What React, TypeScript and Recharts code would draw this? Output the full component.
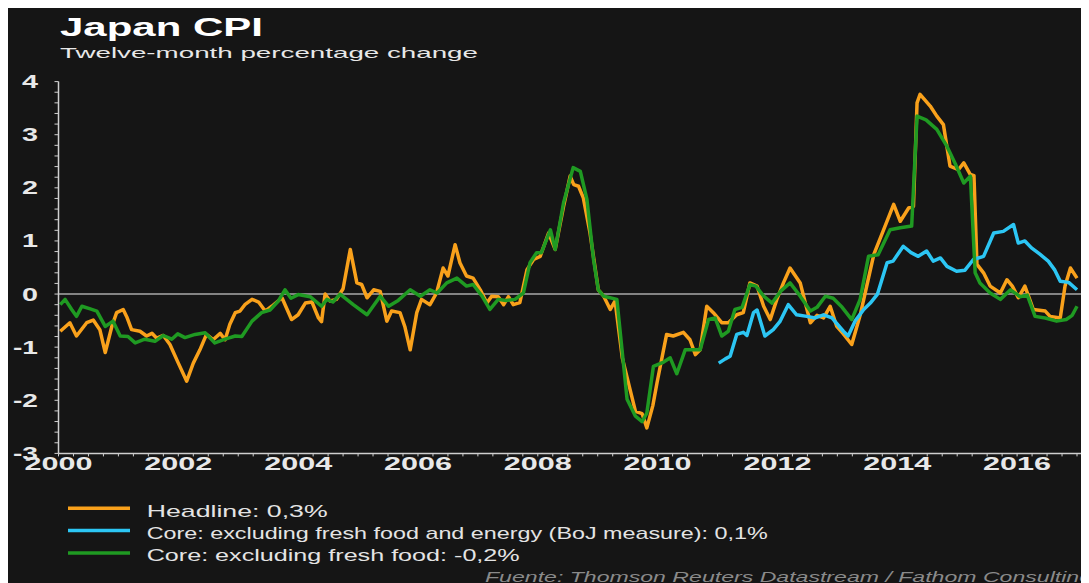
import React from 'react';
import { LineChart, Line, XAxis, YAxis, ReferenceLine } from 'recharts';

// [year as decimal, % change]
const headline: [number, number][] = [
  [2000.03, -0.7], [2000.19, -0.54], [2000.3, -0.79], [2000.47, -0.54], [2000.58, -0.49],
  [2000.69, -0.67], [2000.78, -1.1], [2000.89, -0.61], [2000.97, -0.35], [2001.08, -0.29],
  [2001.14, -0.43], [2001.22, -0.67], [2001.36, -0.7], [2001.47, -0.79], [2001.56, -0.74],
  [2001.64, -0.83], [2001.75, -0.78], [2001.86, -0.95], [2002.0, -1.3], [2002.14, -1.64],
  [2002.25, -1.3], [2002.36, -1.05], [2002.47, -0.76], [2002.58, -0.86], [2002.7, -0.74],
  [2002.78, -0.86], [2002.86, -0.57], [2002.95, -0.35], [2003.03, -0.32], [2003.11, -0.2],
  [2003.23, -0.1], [2003.34, -0.15], [2003.45, -0.32], [2003.56, -0.23], [2003.73, -0.07],
  [2003.89, -0.48], [2004.0, -0.39], [2004.12, -0.17], [2004.23, -0.15], [2004.34, -0.45],
  [2004.39, -0.52], [2004.45, 0.0], [2004.53, -0.13], [2004.64, -0.1], [2004.75, 0.1],
  [2004.87, 0.84], [2004.98, 0.21], [2005.06, 0.18], [2005.15, -0.07], [2005.26, 0.08],
  [2005.37, 0.05], [2005.48, -0.51], [2005.56, -0.32], [2005.7, -0.35], [2005.78, -0.61],
  [2005.87, -1.05], [2005.98, -0.35], [2006.06, -0.1], [2006.2, -0.2], [2006.31, 0.02],
  [2006.42, 0.49], [2006.5, 0.34], [2006.62, 0.93], [2006.7, 0.59], [2006.81, 0.34],
  [2006.92, 0.3], [2007.04, 0.08], [2007.15, -0.17], [2007.23, -0.04], [2007.34, -0.05],
  [2007.43, -0.2], [2007.51, -0.05], [2007.59, -0.2], [2007.7, -0.16], [2007.82, 0.46],
  [2007.93, 0.65], [2008.04, 0.71], [2008.18, 1.15], [2008.29, 0.84], [2008.43, 1.65],
  [2008.54, 2.22], [2008.6, 2.06], [2008.68, 2.03], [2008.76, 1.81], [2008.87, 1.16],
  [2009.01, 0.08], [2009.1, -0.04], [2009.21, -0.29], [2009.29, -0.13], [2009.41, -1.2],
  [2009.63, -2.21], [2009.74, -2.25], [2009.82, -2.52], [2009.92, -2.1], [2009.99, -1.67],
  [2010.15, -0.76], [2010.26, -0.79], [2010.43, -0.72], [2010.54, -0.86], [2010.63, -1.14],
  [2010.71, -1.05], [2010.82, -0.23], [2010.93, -0.35], [2011.07, -0.54], [2011.18, -0.54],
  [2011.32, -0.39], [2011.43, -0.35], [2011.54, 0.21], [2011.66, 0.15], [2011.77, -0.23],
  [2011.88, -0.48], [2011.99, -0.1], [2012.1, 0.21], [2012.21, 0.49], [2012.38, 0.21],
  [2012.55, -0.54], [2012.66, -0.4], [2012.77, -0.45], [2012.88, -0.23], [2012.99, -0.61],
  [2013.1, -0.75], [2013.24, -0.95], [2013.38, -0.4], [2013.48, 0.1], [2013.61, 0.75],
  [2013.74, 1.12], [2013.94, 1.69], [2014.05, 1.37], [2014.19, 1.62], [2014.27, 1.65],
  [2014.33, 3.6], [2014.38, 3.76], [2014.55, 3.54], [2014.66, 3.35], [2014.77, 3.19],
  [2014.88, 2.41], [2015.02, 2.34], [2015.11, 2.47], [2015.22, 2.25], [2015.28, 2.23],
  [2015.33, 0.56], [2015.44, 0.4], [2015.55, 0.15], [2015.72, 0.02], [2015.83, 0.27],
  [2015.92, 0.15], [2016.02, -0.07], [2016.13, 0.15], [2016.27, -0.29], [2016.47, -0.32],
  [2016.55, -0.42], [2016.72, -0.45], [2016.8, 0.15], [2016.89, 0.49], [2017.0, 0.3],
];

const coreBoJ: [number, number][] = [
  [2011.02, -1.3], [2011.13, -1.22], [2011.21, -1.17], [2011.32, -0.76], [2011.43, -0.72],
  [2011.49, -0.78], [2011.6, -0.35], [2011.66, -0.3], [2011.79, -0.79], [2011.93, -0.67],
  [2012.04, -0.52], [2012.18, -0.2], [2012.32, -0.39], [2012.49, -0.42], [2012.63, -0.45],
  [2012.77, -0.39], [2012.91, -0.45], [2013.1, -0.7], [2013.18, -0.79], [2013.3, -0.5],
  [2013.44, -0.29], [2013.55, -0.17], [2013.67, 0.0], [2013.83, 0.59], [2013.93, 0.62],
  [2014.1, 0.9], [2014.23, 0.78], [2014.35, 0.71], [2014.49, 0.81], [2014.6, 0.62],
  [2014.72, 0.68], [2014.83, 0.52], [2014.99, 0.43], [2015.13, 0.45], [2015.27, 0.65],
  [2015.44, 0.71], [2015.61, 1.15], [2015.77, 1.18], [2015.94, 1.31], [2016.02, 0.96],
  [2016.13, 1.0], [2016.24, 0.87], [2016.38, 0.75], [2016.52, 0.62], [2016.63, 0.45],
  [2016.72, 0.24], [2016.86, 0.22], [2017.0, 0.08],
];

const core: [number, number][] = [
  [2000.03, -0.2], [2000.11, -0.1], [2000.22, -0.29], [2000.3, -0.42], [2000.39, -0.23],
  [2000.53, -0.28], [2000.64, -0.32], [2000.78, -0.61], [2000.91, -0.51], [2001.03, -0.79],
  [2001.16, -0.8], [2001.28, -0.92], [2001.44, -0.85], [2001.61, -0.89], [2001.75, -0.78],
  [2001.89, -0.85], [2001.99, -0.75], [2002.11, -0.82], [2002.28, -0.76], [2002.45, -0.73],
  [2002.61, -0.92], [2002.78, -0.85], [2002.95, -0.79], [2003.06, -0.8], [2003.23, -0.51],
  [2003.39, -0.35], [2003.53, -0.3], [2003.67, -0.13], [2003.78, 0.08], [2003.88, -0.08],
  [2004.0, -0.01], [2004.2, -0.05], [2004.39, -0.23], [2004.48, -0.1], [2004.58, -0.15],
  [2004.7, 0.0], [2004.92, -0.2], [2005.15, -0.39], [2005.37, -0.04], [2005.51, -0.23],
  [2005.67, -0.12], [2005.87, 0.08], [2006.04, -0.04], [2006.2, 0.08], [2006.32, 0.02],
  [2006.48, 0.21], [2006.65, 0.3], [2006.81, 0.15], [2006.92, 0.18], [2007.07, -0.04],
  [2007.2, -0.29], [2007.34, -0.1], [2007.47, -0.12], [2007.62, -0.1], [2007.76, 0.02],
  [2007.87, 0.59], [2007.98, 0.78], [2008.06, 0.78], [2008.21, 1.21], [2008.29, 0.84],
  [2008.43, 1.72], [2008.59, 2.38], [2008.71, 2.31], [2008.82, 1.78], [2008.93, 0.65],
  [2009.01, 0.08], [2009.1, -0.04], [2009.32, -0.1], [2009.49, -1.98], [2009.63, -2.3],
  [2009.74, -2.4], [2009.82, -2.24], [2009.93, -1.36], [2010.1, -1.28], [2010.21, -1.2],
  [2010.32, -1.5], [2010.46, -1.05], [2010.63, -1.05], [2010.71, -1.05], [2010.85, -0.48],
  [2010.96, -0.45], [2011.07, -0.79], [2011.18, -0.7], [2011.29, -0.29], [2011.41, -0.25],
  [2011.54, 0.18], [2011.64, 0.15], [2011.77, -0.04], [2011.91, -0.17], [2012.05, 0.05],
  [2012.21, 0.21], [2012.38, -0.04], [2012.55, -0.32], [2012.66, -0.25], [2012.8, -0.04],
  [2012.93, -0.08], [2013.08, -0.25], [2013.24, -0.48], [2013.38, -0.1], [2013.52, 0.71],
  [2013.68, 0.74], [2013.88, 1.21], [2014.05, 1.25], [2014.24, 1.28], [2014.33, 3.35],
  [2014.48, 3.28], [2014.66, 3.1], [2014.83, 2.78], [2014.97, 2.45], [2015.11, 2.09],
  [2015.22, 2.22], [2015.3, 0.4], [2015.38, 0.21], [2015.55, 0.02], [2015.72, -0.1],
  [2015.89, 0.08], [2016.05, -0.05], [2016.17, -0.02], [2016.3, -0.42], [2016.47, -0.45],
  [2016.66, -0.51], [2016.82, -0.48], [2016.92, -0.4], [2017.0, -0.23],
];

const yearLabels = [2000, 2002, 2004, 2006, 2008, 2010, 2012, 2014, 2016];
const yLabels = [-3, -2, -1, 0, 1, 2, 3, 4];
const legendLabels = [
  'Headline: 0,3%',
  'Core: excluding fresh food and energy (BoJ measure): 0,1%',
  'Core: excluding fresh food: -0,2%',
];

const ORANGE = '#f9a11b';
const BLUE = '#2cc6f4';
const GREEN = '#1f9a22';
const FONT = '"Liberation Sans", Arial, sans-serif';

// quarterly minor ticks on x, 0.2 steps on y
const xTicks = Array.from({ length: 69 }, (_, i) => 2000 + i / 4);
const yTicks = Array.from({ length: 36 }, (_, i) => Math.round((-3 + i * 0.2) * 10) / 10);

const toPoints = (arr: [number, number][]) => arr.map(([t, v]) => ({ t, v }));

const XTick = (props: any) => {
  const { x, y, payload } = props;
  const year = Math.round(payload.value);
  if (Math.abs(payload.value - year) > 1e-6 || !yearLabels.includes(year)) return <g />;
  return (
    <text x={x} y={y + 12} textAnchor="middle" fill="#e8e8e8" fontSize={18} fontWeight="bold"
      fontFamily={FONT} textLength={68} lengthAdjust="spacingAndGlyphs">
      {year}
    </text>
  );
};

const YTick = (props: any) => {
  const { x, y, payload } = props;
  const v = payload.value;
  if (!yLabels.includes(v)) return <g />;
  const label = String(v);
  return (
    <text x={x} y={y + 6.5} textAnchor="end" fill="#e8e8e8" fontSize={18} fontWeight="bold"
      fontFamily={FONT} textLength={label.length > 1 ? 25 : 16} lengthAdjust="spacingAndGlyphs">
      {label}
    </text>
  );
};

export default function App() {
  const legendColors = [ORANGE, BLUE, GREEN];
  const legendWidths = [181, 621, 373];
  return (
    <div style={{ position: 'relative', width: 1081, height: 575, background: '#151515' }}>
      <style>{'html,body{overflow:hidden}'}</style>
      <LineChart width={1081} height={575} margin={{ top: 73.6, right: 3, left: 10.5, bottom: 99.6 }}>
        <XAxis
          dataKey="t"
          type="number"
          domain={[2000, 2017.15]}
          allowDataOverflow
          ticks={xTicks}
          interval={0}
          height={30}
          tickSize={3}
          tickMargin={2}
          axisLine={{ stroke: '#cfcfcf', strokeWidth: 1.5 }}
          tickLine={{ stroke: '#cfcfcf' }}
          tick={<XTick />}
        />
        <YAxis
          type="number"
          domain={[-3, 4]}
          allowDataOverflow
          ticks={yTicks}
          interval={0}
          width={40}
          tickSize={4}
          tickMargin={16.5}
          axisLine={{ stroke: '#cfcfcf', strokeWidth: 1.5 }}
          tickLine={{ stroke: '#cfcfcf' }}
          tick={<YTick />}
        />
        <ReferenceLine y={0} stroke="#a8a8a8" strokeWidth={1.5} />
        <Line data={toPoints(headline)} dataKey="v" type="linear" stroke={ORANGE} strokeWidth={3.5}
          dot={false} isAnimationActive={false} strokeLinejoin="round" />
        <Line data={toPoints(coreBoJ)} dataKey="v" type="linear" stroke={BLUE} strokeWidth={3.5}
          dot={false} isAnimationActive={false} strokeLinejoin="round" />
        <Line data={toPoints(core)} dataKey="v" type="linear" stroke={GREEN} strokeWidth={3.5}
          dot={false} isAnimationActive={false} strokeLinejoin="round" />
      </LineChart>
      <svg width={1081} height={575} style={{ position: 'absolute', left: 0, top: 0, pointerEvents: 'none' }}>
        <text x={52} y={28} fill="#ffffff" fontSize={26} fontWeight="bold" fontFamily={FONT}
          textLength={203} lengthAdjust="spacingAndGlyphs">Japan CPI</text>
        <text x={52} y={50} fill="#e8e8e8" fontSize={15} fontFamily={FONT}
          textLength={418} lengthAdjust="spacingAndGlyphs">Twelve-month percentage change</text>
        {legendLabels.map((label, i) => (
          <g key={label}>
            <line x1={60} x2={122} y1={500.3 + i * 22.3} y2={500.3 + i * 22.3} stroke={legendColors[i]} strokeWidth={3.5} />
            <text x={138.7} y={508.7 + i * 22.3} fill="#e4e4e4" fontSize={17} fontFamily={FONT}
              textLength={legendWidths[i]} lengthAdjust="spacingAndGlyphs">{label}</text>
          </g>
        ))}
        <text x={477} y={574} fill="#8a8a8a" fontSize={15} fontStyle="italic" fontFamily={FONT}
          textLength={607} lengthAdjust="spacingAndGlyphs">Fuente: Thomson Reuters Datastream / Fathom Consulting</text>
      </svg>
    </div>
  );
}
